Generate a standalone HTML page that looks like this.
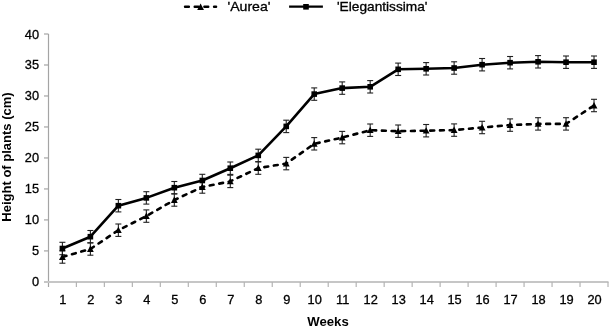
<!DOCTYPE html><html><head><meta charset="utf-8"><title>Height of plants</title><style>html,body{margin:0;padding:0;background:#fff;}svg{display:block;}text{font-family:"Liberation Sans",Arial,sans-serif;fill:#000;} .n{stroke:#000;stroke-width:0.3px;}</style></head><body>
<svg width="609" height="327" viewBox="0 0 609 327">
<rect width="609" height="327" fill="#fff"/>
<g stroke="#a4a4a4" stroke-width="1.2" fill="none">
<line x1="48.5" y1="34" x2="48.5" y2="287"/>
<line x1="44" y1="281.90" x2="48.5" y2="281.90"/>
<line x1="44" y1="250.91" x2="48.5" y2="250.91"/>
<line x1="44" y1="219.92" x2="48.5" y2="219.92"/>
<line x1="44" y1="188.94" x2="48.5" y2="188.94"/>
<line x1="44" y1="157.95" x2="48.5" y2="157.95"/>
<line x1="44" y1="126.96" x2="48.5" y2="126.96"/>
<line x1="44" y1="95.97" x2="48.5" y2="95.97"/>
<line x1="44" y1="64.99" x2="48.5" y2="64.99"/>
<line x1="44" y1="34.00" x2="48.5" y2="34.00"/>
<line x1="44" y1="281.90" x2="608.5" y2="281.90" stroke-width="2" stroke="#c6c6c6"/>
<line x1="76.39" y1="281.90" x2="76.39" y2="287" stroke="#b4b4b4"/>
<line x1="104.37" y1="281.90" x2="104.37" y2="287" stroke="#b4b4b4"/>
<line x1="132.35" y1="281.90" x2="132.35" y2="287" stroke="#b4b4b4"/>
<line x1="160.33" y1="281.90" x2="160.33" y2="287" stroke="#b4b4b4"/>
<line x1="188.31" y1="281.90" x2="188.31" y2="287" stroke="#b4b4b4"/>
<line x1="216.29" y1="281.90" x2="216.29" y2="287" stroke="#b4b4b4"/>
<line x1="244.27" y1="281.90" x2="244.27" y2="287" stroke="#b4b4b4"/>
<line x1="272.25" y1="281.90" x2="272.25" y2="287" stroke="#b4b4b4"/>
<line x1="300.23" y1="281.90" x2="300.23" y2="287" stroke="#b4b4b4"/>
<line x1="328.21" y1="281.90" x2="328.21" y2="287" stroke="#b4b4b4"/>
<line x1="356.19" y1="281.90" x2="356.19" y2="287" stroke="#b4b4b4"/>
<line x1="384.17" y1="281.90" x2="384.17" y2="287" stroke="#b4b4b4"/>
<line x1="412.15" y1="281.90" x2="412.15" y2="287" stroke="#b4b4b4"/>
<line x1="440.13" y1="281.90" x2="440.13" y2="287" stroke="#b4b4b4"/>
<line x1="468.11" y1="281.90" x2="468.11" y2="287" stroke="#b4b4b4"/>
<line x1="496.09" y1="281.90" x2="496.09" y2="287" stroke="#b4b4b4"/>
<line x1="524.07" y1="281.90" x2="524.07" y2="287" stroke="#b4b4b4"/>
<line x1="552.05" y1="281.90" x2="552.05" y2="287" stroke="#b4b4b4"/>
<line x1="580.03" y1="281.90" x2="580.03" y2="287" stroke="#b4b4b4"/>
<line x1="608.01" y1="281.90" x2="608.01" y2="287" stroke="#b4b4b4"/>
</g>
<g class="n" font-size="12.8" text-anchor="end">
<text x="39" y="286.40">0</text>
<text x="39" y="255.41">5</text>
<text x="39" y="224.42">10</text>
<text x="39" y="193.44">15</text>
<text x="39" y="162.45">20</text>
<text x="39" y="131.46">25</text>
<text x="39" y="100.47">30</text>
<text x="39" y="69.49">35</text>
<text x="39" y="38.50">40</text>
</g>
<g class="n" font-size="12.8" text-anchor="middle">
<text x="62.90" y="304.4">1</text>
<text x="90.88" y="304.4">2</text>
<text x="118.86" y="304.4">3</text>
<text x="146.84" y="304.4">4</text>
<text x="174.82" y="304.4">5</text>
<text x="202.80" y="304.4">6</text>
<text x="230.78" y="304.4">7</text>
<text x="258.76" y="304.4">8</text>
<text x="286.74" y="304.4">9</text>
<text x="314.72" y="304.4">10</text>
<text x="342.70" y="304.4">11</text>
<text x="370.68" y="304.4">12</text>
<text x="398.66" y="304.4">13</text>
<text x="426.64" y="304.4">14</text>
<text x="454.62" y="304.4">15</text>
<text x="482.60" y="304.4">16</text>
<text x="510.58" y="304.4">17</text>
<text x="538.56" y="304.4">18</text>
<text x="566.54" y="304.4">19</text>
<text x="594.52" y="304.4">20</text>
</g>
<text x="328" y="325.8" font-size="13" font-weight="bold" text-anchor="middle" textLength="41.5" lengthAdjust="spacingAndGlyphs">Weeks</text>
<text transform="translate(11.4,157) rotate(-90)" x="0" y="0" font-size="13" font-weight="bold" text-anchor="middle">Height of plants (cm)</text>
<g stroke="#1f1f1f" stroke-width="1.1" fill="none">
<line x1="62.40" y1="250.80" x2="62.40" y2="263.20"/>
<line x1="59.40" y1="250.80" x2="65.40" y2="250.80"/>
<line x1="59.40" y1="263.20" x2="65.40" y2="263.20"/>
<line x1="90.38" y1="242.80" x2="90.38" y2="255.20"/>
<line x1="87.38" y1="242.80" x2="93.38" y2="242.80"/>
<line x1="87.38" y1="255.20" x2="93.38" y2="255.20"/>
<line x1="118.36" y1="224.00" x2="118.36" y2="236.40"/>
<line x1="115.36" y1="224.00" x2="121.36" y2="224.00"/>
<line x1="115.36" y1="236.40" x2="121.36" y2="236.40"/>
<line x1="146.34" y1="209.90" x2="146.34" y2="222.30"/>
<line x1="143.34" y1="209.90" x2="149.34" y2="209.90"/>
<line x1="143.34" y1="222.30" x2="149.34" y2="222.30"/>
<line x1="174.32" y1="193.80" x2="174.32" y2="206.20"/>
<line x1="171.32" y1="193.80" x2="177.32" y2="193.80"/>
<line x1="171.32" y1="206.20" x2="177.32" y2="206.20"/>
<line x1="202.30" y1="180.80" x2="202.30" y2="193.20"/>
<line x1="199.30" y1="180.80" x2="205.30" y2="180.80"/>
<line x1="199.30" y1="193.20" x2="205.30" y2="193.20"/>
<line x1="230.28" y1="175.20" x2="230.28" y2="187.60"/>
<line x1="227.28" y1="175.20" x2="233.28" y2="175.20"/>
<line x1="227.28" y1="187.60" x2="233.28" y2="187.60"/>
<line x1="258.26" y1="161.90" x2="258.26" y2="174.30"/>
<line x1="255.26" y1="161.90" x2="261.26" y2="161.90"/>
<line x1="255.26" y1="174.30" x2="261.26" y2="174.30"/>
<line x1="286.24" y1="157.40" x2="286.24" y2="169.80"/>
<line x1="283.24" y1="157.40" x2="289.24" y2="157.40"/>
<line x1="283.24" y1="169.80" x2="289.24" y2="169.80"/>
<line x1="314.22" y1="137.60" x2="314.22" y2="150.00"/>
<line x1="311.22" y1="137.60" x2="317.22" y2="137.60"/>
<line x1="311.22" y1="150.00" x2="317.22" y2="150.00"/>
<line x1="342.20" y1="131.40" x2="342.20" y2="143.80"/>
<line x1="339.20" y1="131.40" x2="345.20" y2="131.40"/>
<line x1="339.20" y1="143.80" x2="345.20" y2="143.80"/>
<line x1="370.18" y1="124.00" x2="370.18" y2="136.40"/>
<line x1="367.18" y1="124.00" x2="373.18" y2="124.00"/>
<line x1="367.18" y1="136.40" x2="373.18" y2="136.40"/>
<line x1="398.16" y1="125.00" x2="398.16" y2="137.40"/>
<line x1="395.16" y1="125.00" x2="401.16" y2="125.00"/>
<line x1="395.16" y1="137.40" x2="401.16" y2="137.40"/>
<line x1="426.14" y1="124.50" x2="426.14" y2="136.90"/>
<line x1="423.14" y1="124.50" x2="429.14" y2="124.50"/>
<line x1="423.14" y1="136.90" x2="429.14" y2="136.90"/>
<line x1="454.12" y1="123.90" x2="454.12" y2="136.30"/>
<line x1="451.12" y1="123.90" x2="457.12" y2="123.90"/>
<line x1="451.12" y1="136.30" x2="457.12" y2="136.30"/>
<line x1="482.10" y1="121.30" x2="482.10" y2="133.70"/>
<line x1="479.10" y1="121.30" x2="485.10" y2="121.30"/>
<line x1="479.10" y1="133.70" x2="485.10" y2="133.70"/>
<line x1="510.08" y1="118.90" x2="510.08" y2="131.30"/>
<line x1="507.08" y1="118.90" x2="513.08" y2="118.90"/>
<line x1="507.08" y1="131.30" x2="513.08" y2="131.30"/>
<line x1="538.06" y1="117.70" x2="538.06" y2="130.10"/>
<line x1="535.06" y1="117.70" x2="541.06" y2="117.70"/>
<line x1="535.06" y1="130.10" x2="541.06" y2="130.10"/>
<line x1="566.04" y1="117.70" x2="566.04" y2="130.10"/>
<line x1="563.04" y1="117.70" x2="569.04" y2="117.70"/>
<line x1="563.04" y1="130.10" x2="569.04" y2="130.10"/>
<line x1="594.02" y1="99.30" x2="594.02" y2="111.70"/>
<line x1="591.02" y1="99.30" x2="597.02" y2="99.30"/>
<line x1="591.02" y1="111.70" x2="597.02" y2="111.70"/>
<line x1="62.40" y1="242.30" x2="62.40" y2="254.70"/>
<line x1="59.40" y1="242.30" x2="65.40" y2="242.30"/>
<line x1="59.40" y1="254.70" x2="65.40" y2="254.70"/>
<line x1="90.38" y1="230.50" x2="90.38" y2="242.90"/>
<line x1="87.38" y1="230.50" x2="93.38" y2="230.50"/>
<line x1="87.38" y1="242.90" x2="93.38" y2="242.90"/>
<line x1="118.36" y1="199.50" x2="118.36" y2="211.90"/>
<line x1="115.36" y1="199.50" x2="121.36" y2="199.50"/>
<line x1="115.36" y1="211.90" x2="121.36" y2="211.90"/>
<line x1="146.34" y1="191.70" x2="146.34" y2="204.10"/>
<line x1="143.34" y1="191.70" x2="149.34" y2="191.70"/>
<line x1="143.34" y1="204.10" x2="149.34" y2="204.10"/>
<line x1="174.32" y1="181.50" x2="174.32" y2="193.90"/>
<line x1="171.32" y1="181.50" x2="177.32" y2="181.50"/>
<line x1="171.32" y1="193.90" x2="177.32" y2="193.90"/>
<line x1="202.30" y1="174.30" x2="202.30" y2="186.70"/>
<line x1="199.30" y1="174.30" x2="205.30" y2="174.30"/>
<line x1="199.30" y1="186.70" x2="205.30" y2="186.70"/>
<line x1="230.28" y1="162.00" x2="230.28" y2="174.40"/>
<line x1="227.28" y1="162.00" x2="233.28" y2="162.00"/>
<line x1="227.28" y1="174.40" x2="233.28" y2="174.40"/>
<line x1="258.26" y1="149.20" x2="258.26" y2="161.60"/>
<line x1="255.26" y1="149.20" x2="261.26" y2="149.20"/>
<line x1="255.26" y1="161.60" x2="261.26" y2="161.60"/>
<line x1="286.24" y1="120.20" x2="286.24" y2="132.60"/>
<line x1="283.24" y1="120.20" x2="289.24" y2="120.20"/>
<line x1="283.24" y1="132.60" x2="289.24" y2="132.60"/>
<line x1="314.22" y1="87.90" x2="314.22" y2="100.30"/>
<line x1="311.22" y1="87.90" x2="317.22" y2="87.90"/>
<line x1="311.22" y1="100.30" x2="317.22" y2="100.30"/>
<line x1="342.20" y1="81.90" x2="342.20" y2="94.30"/>
<line x1="339.20" y1="81.90" x2="345.20" y2="81.90"/>
<line x1="339.20" y1="94.30" x2="345.20" y2="94.30"/>
<line x1="370.18" y1="80.60" x2="370.18" y2="93.00"/>
<line x1="367.18" y1="80.60" x2="373.18" y2="80.60"/>
<line x1="367.18" y1="93.00" x2="373.18" y2="93.00"/>
<line x1="398.16" y1="63.10" x2="398.16" y2="75.50"/>
<line x1="395.16" y1="63.10" x2="401.16" y2="63.10"/>
<line x1="395.16" y1="75.50" x2="401.16" y2="75.50"/>
<line x1="426.14" y1="62.60" x2="426.14" y2="75.00"/>
<line x1="423.14" y1="62.60" x2="429.14" y2="62.60"/>
<line x1="423.14" y1="75.00" x2="429.14" y2="75.00"/>
<line x1="454.12" y1="61.80" x2="454.12" y2="74.20"/>
<line x1="451.12" y1="61.80" x2="457.12" y2="61.80"/>
<line x1="451.12" y1="74.20" x2="457.12" y2="74.20"/>
<line x1="482.10" y1="58.50" x2="482.10" y2="70.90"/>
<line x1="479.10" y1="58.50" x2="485.10" y2="58.50"/>
<line x1="479.10" y1="70.90" x2="485.10" y2="70.90"/>
<line x1="510.08" y1="56.50" x2="510.08" y2="68.90"/>
<line x1="507.08" y1="56.50" x2="513.08" y2="56.50"/>
<line x1="507.08" y1="68.90" x2="513.08" y2="68.90"/>
<line x1="538.06" y1="55.60" x2="538.06" y2="68.00"/>
<line x1="535.06" y1="55.60" x2="541.06" y2="55.60"/>
<line x1="535.06" y1="68.00" x2="541.06" y2="68.00"/>
<line x1="566.04" y1="56.00" x2="566.04" y2="68.40"/>
<line x1="563.04" y1="56.00" x2="569.04" y2="56.00"/>
<line x1="563.04" y1="68.40" x2="569.04" y2="68.40"/>
<line x1="594.02" y1="56.00" x2="594.02" y2="68.40"/>
<line x1="591.02" y1="56.00" x2="597.02" y2="56.00"/>
<line x1="591.02" y1="68.40" x2="597.02" y2="68.40"/>
</g>
<polyline points="62.40,257.00 90.38,249.00 118.36,230.20 146.34,216.10 174.32,200.00 202.30,187.00 230.28,181.40 258.26,168.10 286.24,163.60 314.22,143.80 342.20,137.60 370.18,130.20 398.16,131.20 426.14,130.70 454.12,130.10 482.10,127.50 510.08,125.10 538.06,123.90 566.04,123.90 594.02,105.50" fill="none" stroke="#000" stroke-width="2.6" stroke-dasharray="3.9 5.78" stroke-dashoffset="-0.27" stroke-linecap="round" stroke-linejoin="round"/>
<polyline points="62.40,248.50 90.38,236.70 118.36,205.70 146.34,197.90 174.32,187.70 202.30,180.50 230.28,168.20 258.26,155.40 286.24,126.40 314.22,94.10 342.20,88.10 370.18,86.80 398.16,69.30 426.14,68.80 454.12,68.00 482.10,64.70 510.08,62.70 538.06,61.80 566.04,62.20 594.02,62.20" fill="none" stroke="#000" stroke-width="2.6" stroke-linejoin="round"/>
<rect x="59.60" y="245.70" width="5.6" height="5.6" fill="#000"/>
<rect x="87.58" y="233.90" width="5.6" height="5.6" fill="#000"/>
<rect x="115.56" y="202.90" width="5.6" height="5.6" fill="#000"/>
<rect x="143.54" y="195.10" width="5.6" height="5.6" fill="#000"/>
<rect x="171.52" y="184.90" width="5.6" height="5.6" fill="#000"/>
<rect x="199.50" y="177.70" width="5.6" height="5.6" fill="#000"/>
<rect x="227.48" y="165.40" width="5.6" height="5.6" fill="#000"/>
<rect x="255.46" y="152.60" width="5.6" height="5.6" fill="#000"/>
<rect x="283.44" y="123.60" width="5.6" height="5.6" fill="#000"/>
<rect x="311.42" y="91.30" width="5.6" height="5.6" fill="#000"/>
<rect x="339.40" y="85.30" width="5.6" height="5.6" fill="#000"/>
<rect x="367.38" y="84.00" width="5.6" height="5.6" fill="#000"/>
<rect x="395.36" y="66.50" width="5.6" height="5.6" fill="#000"/>
<rect x="423.34" y="66.00" width="5.6" height="5.6" fill="#000"/>
<rect x="451.32" y="65.20" width="5.6" height="5.6" fill="#000"/>
<rect x="479.30" y="61.90" width="5.6" height="5.6" fill="#000"/>
<rect x="507.28" y="59.90" width="5.6" height="5.6" fill="#000"/>
<rect x="535.26" y="59.00" width="5.6" height="5.6" fill="#000"/>
<rect x="563.24" y="59.40" width="5.6" height="5.6" fill="#000"/>
<rect x="591.22" y="59.40" width="5.6" height="5.6" fill="#000"/>
<path d="M62.40 253.50L65.80 259.90L59.00 259.90Z" fill="#000"/>
<path d="M90.38 245.50L93.78 251.90L86.98 251.90Z" fill="#000"/>
<path d="M118.36 226.70L121.76 233.10L114.96 233.10Z" fill="#000"/>
<path d="M146.34 212.60L149.74 219.00L142.94 219.00Z" fill="#000"/>
<path d="M174.32 196.50L177.72 202.90L170.92 202.90Z" fill="#000"/>
<path d="M202.30 183.50L205.70 189.90L198.90 189.90Z" fill="#000"/>
<path d="M230.28 177.90L233.68 184.30L226.88 184.30Z" fill="#000"/>
<path d="M258.26 164.60L261.66 171.00L254.86 171.00Z" fill="#000"/>
<path d="M286.24 160.10L289.64 166.50L282.84 166.50Z" fill="#000"/>
<path d="M314.22 140.30L317.62 146.70L310.82 146.70Z" fill="#000"/>
<path d="M342.20 134.10L345.60 140.50L338.80 140.50Z" fill="#000"/>
<path d="M370.18 126.70L373.58 133.10L366.78 133.10Z" fill="#000"/>
<path d="M398.16 127.70L401.56 134.10L394.76 134.10Z" fill="#000"/>
<path d="M426.14 127.20L429.54 133.60L422.74 133.60Z" fill="#000"/>
<path d="M454.12 126.60L457.52 133.00L450.72 133.00Z" fill="#000"/>
<path d="M482.10 124.00L485.50 130.40L478.70 130.40Z" fill="#000"/>
<path d="M510.08 121.60L513.48 128.00L506.68 128.00Z" fill="#000"/>
<path d="M538.06 120.40L541.46 126.80L534.66 126.80Z" fill="#000"/>
<path d="M566.04 120.40L569.44 126.80L562.64 126.80Z" fill="#000"/>
<path d="M594.02 102.00L597.42 108.40L590.62 108.40Z" fill="#000"/>
<line x1="185" y1="6.7" x2="216.1" y2="6.7" stroke="#000" stroke-width="2.4" stroke-dasharray="3.9 5.78" stroke-linecap="round"/>
<path d="M200.60 3.50L204.00 9.90L197.20 9.90Z" fill="#000"/>
<line x1="289.1" y1="6.7" x2="322.9" y2="6.7" stroke="#000" stroke-width="2.3"/>
<rect x="303.20" y="4.00" width="5.6" height="5.6" fill="#000"/>
<text class="n" x="227.5" y="10.6" font-size="12.8" textLength="43" lengthAdjust="spacingAndGlyphs">'Aurea'</text>
<text class="n" x="337" y="10.6" font-size="12.8" textLength="90.5" lengthAdjust="spacingAndGlyphs">'Elegantissima'</text>
</svg></body></html>
